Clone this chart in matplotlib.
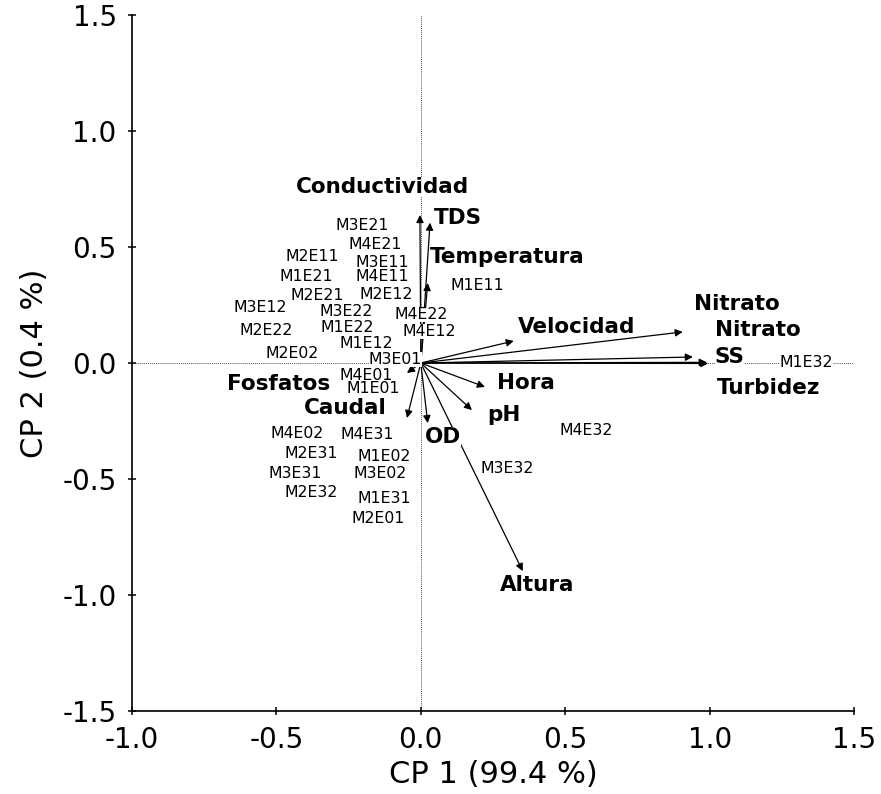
import matplotlib
matplotlib.use("Agg")
import matplotlib.pyplot as plt

# sample scores on CP1 / CP2
samples = ["M3E21", "M4E21", "M2E11", "M3E11", "M1E21", "M4E11", "M2E21", "M2E12",
           "M3E12", "M3E22", "M4E22", "M2E22", "M1E22", "M4E12", "M1E12", "M1E11",
           "M2E02", "M3E01", "M4E01", "M1E01", "M4E02", "M4E31", "M2E31", "M1E02",
           "M3E31", "M3E02", "M2E32", "M1E31", "M2E01", "M4E32", "M3E32", "M1E32"]
cp1 = [-0.204, -0.156, -0.377, -0.132, -0.395, -0.132, -0.360, -0.118,
       -0.557, -0.260, 0.000, -0.537, -0.253, 0.028, -0.190, 0.197,
       -0.447, -0.087, -0.190, -0.163, -0.429, -0.184, -0.381, -0.128,
       -0.436, -0.142, -0.381, -0.125, -0.149, 0.571, 0.298, 1.333]
cp2 = [0.591, 0.509, 0.457, 0.435, 0.375, 0.371, 0.293, 0.297,
       0.241, 0.220, 0.207, 0.138, 0.151, 0.134, 0.086, 0.336,
       0.039, 0.017, -0.052, -0.108, -0.302, -0.310, -0.388, -0.405,
       -0.478, -0.478, -0.560, -0.586, -0.672, -0.293, -0.453, 0.004]

# variable loadings (arrow tips)
variables = ["Conductividad", "TDS", "Temperatura", "Velocidad", "Nitrato", "Nitrato",
             "SS", "Turbidez", "Hora", "pH", "OD", "Caudal", "Fosfatos", "Altura"]
load1 = [-0.003, 0.032, 0.024, 0.322, 0.907, 0.942, 0.990, 0.995,
         0.222, 0.177, 0.024, -0.048, -0.048, 0.353]
load2 = [0.638, 0.605, 0.345, 0.095, 0.134, 0.026, 0.003, -0.002,
         -0.103, -0.203, -0.259, -0.237, -0.043, -0.897]
# where each variable name is written
lab1 = [-0.132, 0.130, 0.299, 0.541, 1.093, 1.168, 1.070, 1.205,
        0.364, 0.287, 0.076, -0.260, -0.492, 0.402]
lab2 = [0.759, 0.625, 0.457, 0.155, 0.254, 0.142, 0.026, -0.108,
        -0.086, -0.224, -0.319, -0.194, -0.091, -0.957]

fig = plt.figure(figsize=(8.81, 7.94), dpi=100)
ax = fig.add_axes([0.1498, 0.1045, 0.8196, 0.8766])

ax.set_xlim(-1.0, 1.5)
ax.set_ylim(-1.5, 1.5)
ax.axhline(0, color="#555555", lw=0.7, ls=(0, (1, 1)), zorder=1)
ax.axvline(0, color="#555555", lw=0.7, ls=(0, (1, 1)), zorder=1)

for v, x, y in zip(variables, load1, load2):
    ax.annotate("", xy=(x, y), xytext=(0, 0),
                arrowprops=dict(arrowstyle="-|>", color="black", lw=0.9,
                                mutation_scale=11, shrinkA=0, shrinkB=0),
                zorder=2)

for v, x, y in zip(variables, lab1, lab2):
    ax.text(x, y, v, ha="center", va="center", fontsize=15.5, fontweight="bold",
            bbox=dict(facecolor="white", edgecolor="none", pad=0), zorder=4)

for s, x, y in zip(samples, cp1, cp2):
    ax.text(x, y, s, ha="center", va="center", fontsize=11.3,
            bbox=dict(facecolor="white", edgecolor="none", pad=0), zorder=3)

ax.set_xticks([-1.0, -0.5, 0.0, 0.5, 1.0, 1.5])
ax.set_yticks([-1.5, -1.0, -0.5, 0.0, 0.5, 1.0, 1.5])
ax.set_xticklabels(["-1.0", "-0.5", "0.0", "0.5", "1.0", "1.5"])
ax.set_yticklabels(["-1.5", "-1.0", "-0.5", "0.0", "0.5", "1.0", "1.5"])
ax.tick_params(direction="inout", length=6, width=1.1, labelsize=20, pad=8)

for side in ["top", "right"]:
    ax.spines[side].set_visible(False)
for side in ["left", "bottom"]:
    ax.spines[side].set_linewidth(1.2)

ax.set_xlabel("CP 1 (99.4 %)", fontsize=22, labelpad=4)
ax.set_ylabel("CP 2 (0.4 %)", fontsize=22, labelpad=10)

fig.savefig("out.png", dpi=100)
